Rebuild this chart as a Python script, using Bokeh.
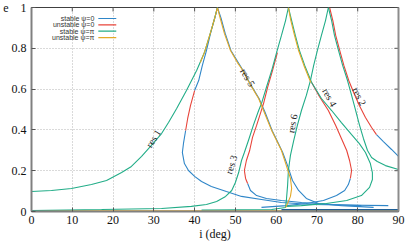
import math
from bokeh.plotting import figure
from bokeh.models import LinearAxis, FixedTicker, Range1d, Label, BoxAnnotation
from bokeh.embed import file_html
from bokeh.resources import INLINE

# ---------------- data ----------------
x_ticks = [0, 10, 20, 30, 40, 50, 60, 70, 80, 90]
x_tick_labels = ["0", "10", "20", "30", "40", "50", "60", "70", "80", "90"]
y_ticks = [0, 0.2, 0.4, 0.6, 0.8, 1.0]
y_tick_labels = ["0", "0.2", "0.4", "0.6", "0.8", "1"]

series_names = ["stable \u03c8=0", "unstable \u03c8=0", "stable \u03c8=\u03c0", "unstable \u03c8=\u03c0"]

# stable psi=0 (blue)
b_res1_top_i = [45.6, 44.9, 43.9, 42.9, 41.9, 41.0, 40.0]
b_res1_top_e = [1.0, 0.946, 0.873, 0.789, 0.716, 0.642, 0.593]
b_res1_low_i = [37.8, 37.3, 37.0, 37.5, 38.5, 40.0, 41.7, 44.1, 47.8, 51.5, 56.4, 61.3, 68.7, 76.0, 87.5]
b_res1_low_e = [0.397, 0.338, 0.289, 0.235, 0.201, 0.172, 0.147, 0.123, 0.098, 0.074, 0.059, 0.044, 0.034, 0.032, 0.029]
b_res5_i = [45.6, 46.5, 47.5, 48.9, 51.6, 53.6, 55.8, 57.3, 59.0, 60.2, 61.6, 62.8, 64.0, 65.5, 67.4, 70.4, 76.0, 83.9]
b_res5_e = [1.0, 0.946, 0.873, 0.789, 0.701, 0.627, 0.554, 0.485, 0.397, 0.348, 0.289, 0.225, 0.152, 0.103, 0.064, 0.039, 0.029, 0.020]
b_res3_i = [53.0, 53.7, 55.2, 57.6, 61.3, 66.2, 73.6, 80.9]
b_res3_e = [0.137, 0.103, 0.078, 0.064, 0.054, 0.044, 0.034, 0.029]
b_res4_i = [78.2, 77.7, 76.8, 74.8, 71.6, 67.4, 62.5, 56.4]
b_res4_e = [0.162, 0.132, 0.103, 0.078, 0.054, 0.039, 0.029, 0.020]
b_res2_i = [84.6, 86.3, 88.3, 90.0]
b_res2_e = [0.377, 0.343, 0.304, 0.270]
b_floor_i = [61.3, 90.0]
b_floor_e = [0.008, 0.008]

# unstable psi=0 (red)
r_res1_i = [40.0, 39.0, 38.3, 37.8]
r_res1_e = [0.593, 0.520, 0.456, 0.397]
r_res3_i = [60.3, 59.1, 57.9, 56.9, 56.2, 55.2, 54.2, 53.5, 52.7, 52.2, 52.5, 53.0]
r_res3_e = [0.779, 0.691, 0.608, 0.529, 0.485, 0.422, 0.363, 0.299, 0.250, 0.201, 0.162, 0.137]
r_res4_i = [68.7, 70.6, 72.8, 74.6, 76.0, 77.3, 78.0, 78.5, 78.2]
r_res4_e = [0.632, 0.564, 0.495, 0.422, 0.358, 0.299, 0.250, 0.201, 0.162]
r_res2_i = [73.1, 73.9, 74.6, 75.6, 76.6, 77.8, 79.0, 80.4, 81.9, 83.4, 84.6]
r_res2_e = [1.0, 0.936, 0.863, 0.789, 0.716, 0.642, 0.583, 0.520, 0.461, 0.412, 0.377]

# stable psi=pi (green)
g_res1_i = [0, 4.9, 9.8, 14.7, 18.4, 22.1, 24.5, 27.0, 29.4, 31.9, 33.6, 35.6, 38.0, 40.5, 42.4, 43.9, 44.9, 45.6]
g_res1_e = [0.098, 0.103, 0.113, 0.132, 0.152, 0.191, 0.221, 0.270, 0.324, 0.382, 0.436, 0.505, 0.593, 0.691, 0.779, 0.877, 0.946, 1.0]
g_res3_i = [63.0, 62.3, 61.3, 60.1, 58.9, 57.6, 56.4, 55.7, 54.4, 53.2, 52.2, 51.5, 50.8, 50.0, 49.1, 47.6, 45.4, 42.9, 39.2, 31.9, 17.2, 0]
g_res3_e = [1.0, 0.936, 0.863, 0.779, 0.691, 0.608, 0.529, 0.495, 0.422, 0.348, 0.289, 0.250, 0.191, 0.142, 0.103, 0.074, 0.049, 0.034, 0.025, 0.015, 0.010, 0.005]
g_res4_i = [63.0, 63.8, 64.7, 65.7, 67.0, 68.7, 71.1, 73.6, 76.0, 78.5, 80.4, 81.9, 83.1, 83.6, 83.6, 82.9, 80.9, 77.3, 72.3, 66.2, 62.5]
g_res4_e = [1.0, 0.936, 0.863, 0.789, 0.716, 0.632, 0.554, 0.495, 0.436, 0.377, 0.333, 0.289, 0.235, 0.191, 0.157, 0.118, 0.078, 0.054, 0.039, 0.029, 0.025]
g_res6_i = [72.8, 72.1, 71.1, 70.1, 69.2, 68.4, 67.4, 66.2, 65.2, 64.3, 63.5, 63.0, 62.8, 62.5, 62.3, 58.9, 41.7]
g_res6_e = [1.0, 0.936, 0.863, 0.789, 0.716, 0.642, 0.569, 0.495, 0.422, 0.348, 0.275, 0.201, 0.127, 0.054, 0.020, 0.010, 0.007]
g_res2_i = [72.8, 73.6, 74.3, 75.3, 76.3, 77.5, 78.5, 79.5, 80.4, 81.4, 82.4, 83.4, 84.8, 86.8, 90.0]
g_res2_e = [1.0, 0.936, 0.863, 0.789, 0.716, 0.642, 0.569, 0.495, 0.426, 0.358, 0.299, 0.265, 0.245, 0.225, 0.206]

# unstable psi=pi (yellow)
y_res15_i = [41.4, 42.4, 43.9, 44.9, 45.6, 46.3, 47.3, 48.8, 50.5, 51.5, 53.5, 55.7, 57.1, 58.1, 58.9, 60.1, 61.3, 62.5, 63.5, 63.8, 63.5, 62.8, 62.3]
y_res15_e = [0.730, 0.779, 0.877, 0.946, 1.0, 0.946, 0.873, 0.789, 0.730, 0.701, 0.627, 0.554, 0.485, 0.436, 0.397, 0.348, 0.299, 0.225, 0.162, 0.113, 0.074, 0.039, 0.020]
y_res4_i = [63.0, 63.6, 64.5, 65.5, 66.8, 68.5]
y_res4_e = [1.0, 0.936, 0.863, 0.789, 0.716, 0.632]
y_floor_i = [0, 90.0]
y_floor_e = [0.003, 0.003]

# curve annotations
res_text = ["res 1", "res 2", "res 3", "res 4", "res 5", "res 6"]
res_i = [29.9, 80.4, 49.0, 73.1, 53.0, 64.0]
res_e = [0.358, 0.564, 0.230, 0.559, 0.657, 0.431]
res_angle_deg = [58, -63, 73, -61, -60, 80]

# ---------------- styling / layout ----------------
COLORS = {"blue": "#2f86c8", "red": "#e8443a", "green": "#22ad88", "yellow": "#e3a928"}
SERIES_COLORS = [COLORS["blue"], COLORS["red"], COLORS["green"], COLORS["yellow"]]
W, H = 405, 243
BL, BR, BT, BB = 30, 7, 7, 32
FW, FH = W - BL - BR, H - BT - BB
SERIF = "Liberation Serif"

p = figure(width=W, height=H, output_backend="svg", toolbar_location=None,
           x_range=Range1d(x_ticks[0], x_ticks[-1]), y_range=Range1d(y_ticks[0], y_ticks[-1]),
           min_border_left=BL, min_border_right=BR, min_border_top=BT, min_border_bottom=BB,
           background_fill_color="white", border_fill_color="white")
p.outline_line_color = "#404040"
p.outline_line_width = 1

for ax, ticks, labels in ((p.xaxis[0], x_ticks, x_tick_labels), (p.yaxis[0], y_ticks, y_tick_labels)):
    ax.ticker = FixedTicker(ticks=ticks)
    ax.major_label_overrides = {t: l for t, l in zip(ticks, labels)}
    ax.major_label_text_font = SERIF
    ax.major_label_text_font_size = "12px"
    ax.major_label_text_color = "#111111"
    ax.major_tick_in = 4
    ax.major_tick_out = 0
    ax.minor_tick_line_color = None
    ax.major_tick_line_color = "#555555"
    ax.axis_line_color = "#808080"
    ax.axis_line_width = 2
    ax.axis_label_text_font = SERIF
    ax.axis_label_text_font_size = "12px"
    ax.axis_label_text_font_style = "normal"
    ax.axis_label_text_color = "#111111"
    ax.axis_label_standoff = 0
p.xaxis.major_label_standoff = 4
p.yaxis.major_label_standoff = 5
p.xaxis.axis_label = "i (deg)"

ya = p.yaxis[0]
ya.axis_label = "e"
try:
    ya.axis_label_orientation = "horizontal"
except Exception:
    pass
try:
    ya.axis_label_align = "end"
except Exception:
    pass

# right border: thick gray line only (no ticks / labels)
p.add_layout(LinearAxis(ticker=FixedTicker(ticks=[]), major_label_standoff=0, major_tick_in=0,
                        major_tick_out=0, minor_tick_line_color=None,
                        axis_line_color="#8c8c8c", axis_line_width=2), "right")

p.xgrid.ticker = FixedTicker(ticks=x_ticks)
p.ygrid.ticker = FixedTicker(ticks=y_ticks)
for g in (p.xgrid[0], p.ygrid[0]):
    g.grid_line_color = "#b4b4b4"
    g.grid_line_dash = "1 2"
    g.grid_line_width = 1

# inward tick marks on the top and right borders (half of each dash is clipped by the frame)
p.scatter(x=x_ticks, y=[y_ticks[-1]] * len(x_ticks), marker="dash", angle=math.pi / 2,
          size=8, line_color="#555555", line_width=1)
p.scatter(x=[x_ticks[-1]] * len(y_ticks), y=y_ticks, marker="dash",
          size=8, line_color="#555555", line_width=1)

LW = 1.1
p.line(y_floor_i, y_floor_e, line_color=COLORS["yellow"], line_width=1.5)
p.line(b_floor_i, b_floor_e, line_color="#1f5f96", line_width=1.5)
for xs, ys in ((b_res1_top_i, b_res1_top_e), (b_res1_low_i, b_res1_low_e), (b_res5_i, b_res5_e),
               (b_res3_i, b_res3_e), (b_res4_i, b_res4_e), (b_res2_i, b_res2_e)):
    p.line(xs, ys, line_color=COLORS["blue"], line_width=LW)
for xs, ys in ((r_res1_i, r_res1_e), (r_res3_i, r_res3_e), (r_res4_i, r_res4_e), (r_res2_i, r_res2_e)):
    p.line(xs, ys, line_color=COLORS["red"], line_width=LW)
for xs, ys in ((g_res1_i, g_res1_e), (g_res3_i, g_res3_e), (g_res4_i, g_res4_e),
               (g_res6_i, g_res6_e), (g_res2_i, g_res2_e)):
    p.line(xs, ys, line_color=COLORS["green"], line_width=LW)
for xs, ys in ((y_res15_i, y_res15_e), (y_res4_i, y_res4_e)):
    p.line(xs, ys, line_color=COLORS["yellow"], line_width=LW)


def dx(px):
    return x_ticks[0] + px / FW * (x_ticks[-1] - x_ticks[0])


def dy(py):
    return y_ticks[-1] - py / FH * (y_ticks[-1] - y_ticks[0])


# legend, gnuplot style: right-aligned text with the sample line to its right
LEG_TEXT_RIGHT, LEG_LINE_L, LEG_LINE_R, LEG_ROW0, LEG_PITCH = 63, 67, 85, 11, 6.35
for k, (name, col) in enumerate(zip(series_names, SERIES_COLORS)):
    yc = LEG_ROW0 + LEG_PITCH * k
    p.add_layout(Label(x=dx(LEG_TEXT_RIGHT), y=dy(yc), text=name, text_align="right",
                       text_baseline="middle", text_font="Liberation Sans",
                       text_font_size="7px", text_color="#333333"))
    p.add_layout(BoxAnnotation(left=dx(LEG_LINE_L), right=dx(LEG_LINE_R),
                               top=dy(yc - 0.6), bottom=dy(yc + 0.6),
                               fill_color=col, fill_alpha=1.0, line_color=None))

for t, xi, ye, a in zip(res_text, res_i, res_e, res_angle_deg):
    p.add_layout(Label(x=xi, y=ye, text=t, angle=math.radians(a), angle_units="rad",
                       text_align="center", text_baseline="middle",
                       text_font=SERIF, text_font_size="10px", text_color="#222222"))

open("out.html", "w").write(file_html(p, INLINE))
